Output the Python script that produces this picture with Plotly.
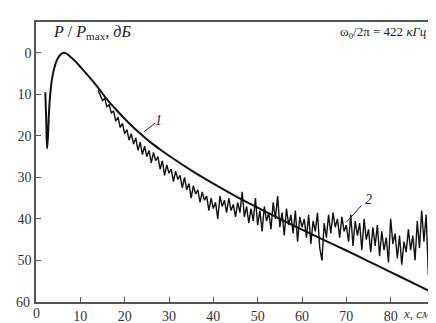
import plotly.graph_objects as go

# Curve 1 (theory, smooth)
x1 = [2.1, 2.3, 2.5, 2.7, 3.0, 3.4, 3.8, 4.3, 4.8, 5.4, 6.0, 6.4, 7.0, 8.0, 9.0, 10.0,
      12.0, 14.0, 16.0, 18.0, 20.0, 22.0, 24.0, 26.0, 28.0, 30.0, 35.0, 40.0, 45.0,
      50.0, 55.0, 60.0, 65.0, 70.0, 75.0, 80.0, 85.0, 90.0]
y1 = [9.5, 16.0, 23.0, 20.0, 13.0, 8.0, 5.2, 3.0, 1.6, 0.6, 0.1, 0.0, 0.3, 1.2, 2.2, 3.4,
      5.8, 8.4, 11.2, 13.6, 15.9, 18.0, 19.9, 21.7, 23.3, 24.8, 28.3, 31.5, 34.5,
      37.3, 40.0, 42.6, 45.1, 47.6, 50.2, 52.8, 55.4, 58.0]

# Curve 2 (experiment, noisy), sampled every 0.5 cm from 14 to 90
x2_start = 14.0
x2_step = 0.5
y2 = [9.0, 10.5, 11.5, 11.0, 13.0, 12.5, 14.5, 14.0, 16.5, 15.5,
      18.0, 17.0, 19.5, 18.5, 21.0, 19.5, 22.0, 20.5, 23.5, 21.5,
      24.5, 22.5, 25.0, 23.5, 26.5, 24.0, 26.0, 25.0, 28.0, 26.0,
      29.5, 27.0, 29.0, 28.0, 31.0, 28.5, 30.5, 29.5, 32.5, 30.0,
      33.0, 31.5, 35.0, 32.0, 34.0, 33.0, 36.0, 33.5, 35.5, 34.5,
      38.0, 35.0, 37.5, 36.0, 40.0, 34.5, 37.0, 35.5, 38.5, 35.0,
      38.0, 36.5, 39.5, 36.0, 38.5, 33.5, 39.5, 37.0, 41.0, 37.5,
      40.5, 35.0, 41.5, 38.0, 43.0, 37.0, 40.5, 38.5, 42.5, 36.0,
      40.0, 34.5, 42.0, 38.5, 44.0, 37.5, 41.5, 39.0, 43.5, 38.0,
      45.5, 39.5, 42.0, 40.0, 44.5, 39.0, 46.0, 40.5, 43.0, 38.5,
      47.0, 50.0, 41.0, 44.5, 39.0, 43.5, 38.5, 42.0, 40.0, 44.5,
      39.5, 43.0, 41.5, 45.5, 39.0, 46.5, 40.5, 44.0, 41.0, 47.5,
      40.0, 45.0, 42.5, 48.0, 42.0, 46.5, 41.5, 49.0, 43.0, 47.5,
      44.5, 50.5, 40.0, 46.0, 43.5, 49.5, 44.0, 51.0, 45.5, 48.0,
      42.5, 47.5, 44.0, 50.0, 40.5, 47.0, 38.0, 45.5, 39.0, 53.5,
      44.0, 49.5, 47.0]
x2 = [x2_start + i * x2_step for i in range(len(y2))]

x_ticks = [10, 20, 30, 40, 50, 60, 70, 80]
x_ticklabels = ["10", "20", "30", "40", "50", "60", "70", "80"]
y_ticks = [0, 10, 20, 30, 40, 50]
y_ticklabels = ["0", "10", "20", "30", "40", "50"]

serif = "Liberation Serif"

fig = go.Figure()
fig.add_trace(go.Scatter(x=x2, y=y2, mode="lines",
                         line=dict(color="#111", width=1.4), showlegend=False))
fig.add_trace(go.Scatter(x=x1, y=y1, mode="lines", line_shape="spline",
                         line=dict(color="#111", width=2), showlegend=False))

axis_common = dict(showline=True, linecolor="#555", linewidth=1.5, mirror=True,
                   ticks="inside", ticklen=5, tickwidth=1.2, tickcolor="#555",
                   showgrid=False, zeroline=False,
                   tickfont=dict(family=serif, size=14, color="#333"))

fig.update_layout(
    width=436, height=323,
    margin=dict(l=28, r=7, t=14, b=21),
    plot_bgcolor="white", paper_bgcolor="white",
    font=dict(family=serif),
    xaxis=dict(range=[0, 90], tickvals=x_ticks, ticktext=x_ticklabels, **axis_common),
    yaxis=dict(range=[60, -7.4], tickvals=y_ticks, ticktext=y_ticklabels, **axis_common),
)

ann_font = dict(family=serif, color="#222")
annotations = [
    dict(x=0, y=60, xref="x", yref="y", text="0", showarrow=False,
         yanchor="top", xanchor="center", yshift=-2,
         font=dict(family=serif, size=14, color="#333")),
    dict(x=0, y=60, xref="x", yref="y", text="60", showarrow=False,
         xanchor="right", yanchor="middle", xshift=-4,
         font=dict(family=serif, size=14, color="#333")),
    dict(x=82.4, y=60, xref="x", yref="y", text="<i>x</i>, <i>см</i>", showarrow=False,
         xanchor="left", yanchor="top", yshift=-2,
         font=dict(family=serif, size=13, color="#333")),
    dict(x=0.037, y=0.962, xref="paper", yref="paper",
         text="<i>P</i> / <i>P</i><sub>max</sub>, <i>дБ</i>", showarrow=False,
         xanchor="left", yanchor="middle", font=dict(size=16, **ann_font)),
    dict(x=0.985, y=0.962, xref="paper", yref="paper",
         text="ω<sub>0</sub>/2π = 422 <i>кГц</i>", showarrow=False,
         xanchor="right", yanchor="middle", font=dict(size=13, **ann_font)),
    dict(x=27.7, y=16.3, xref="x", yref="y", text="<i>1</i>", showarrow=False,
         xanchor="center", yanchor="middle", font=dict(size=14, **ann_font)),
    dict(x=74.9, y=35.3, xref="x", yref="y", text="<i>2</i>", showarrow=False,
         xanchor="center", yanchor="middle", font=dict(size=14, **ann_font)),
]
fig.update_layout(annotations=annotations)

fig.add_shape(type="line", xref="x", yref="y", x0=24.4, y0=19.0, x1=26.9, y1=16.9,
              line=dict(color="#222", width=1))
fig.add_shape(type="line", xref="x", yref="y", x0=70.0, y0=40.8, x1=73.4, y1=36.8,
              line=dict(color="#222", width=1))

fig.write_html("out.html")
